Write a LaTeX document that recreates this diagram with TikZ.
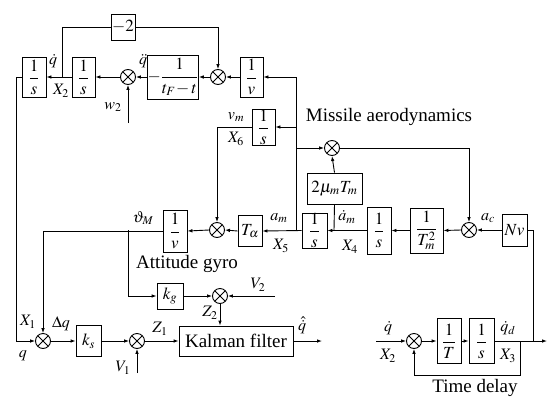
\documentclass[tikz,border=0pt]{standalone}
\usepackage{amsmath}
\usepackage{mathptmx}
\usepackage{fontspec}
\setmainfont{Liberation Serif}
\usetikzlibrary{arrows.meta,calc}
\begin{document}
\begin{tikzpicture}[x=1pt,y=-1pt,
  blk/.style={draw,line width=0.9pt,inner sep=0pt,font=\fontsize{17}{20}\selectfont},
  sumn/.style={draw,circle,line width=0.9pt,minimum size=15pt,inner sep=0pt,
    path picture={\draw[line width=0.9pt] (path picture bounding box.north west)--(path picture bounding box.south east)
      (path picture bounding box.north east)--(path picture bounding box.south west);}},
  ar/.style={-{Latex[length=5pt,width=3.6pt]},line width=0.9pt},
  ln/.style={line width=0.9pt},
  lab/.style={font=\fontsize{16}{17}\selectfont,inner sep=0pt},
  txt/.style={font=\fontsize{19}{21}\selectfont,inner sep=0pt}]
\useasboundingbox (0,0) rectangle (550,400);
% top row
\node[blk,minimum width=24pt,minimum height=40pt] (bS1) at (34,77) {$\dfrac{1}{s}$};
\node[blk,minimum width=23pt,minimum height=40pt] (bS2) at (83.5,77) {$\dfrac{1}{s}$};
\node[sumn] (sA) at (128,77) {};
\node[blk,minimum width=48pt,minimum height=44pt] (bT) at (173,77) {$-\dfrac{1}{t_F\!-t}$};
\node[sumn] (sB) at (218,77) {};
\node[blk,minimum width=23pt,minimum height=40pt] (bV1) at (251.5,77) {$\dfrac{1}{v}$};
\node[blk,minimum width=24pt,minimum height=26pt] (bM2) at (123,27) {$-2$};
% middle
\node[blk,minimum width=23pt,minimum height=36pt] (bVm) at (263.5,127) {$\dfrac{1}{s}$};
\node[sumn] (sC) at (332,148) {};
\node[blk,minimum width=55pt,minimum height=31pt] (b2mu) at (334.5,188.5) {$2\mu_m T_m$};
\node[blk,minimum width=24pt,minimum height=42pt] (bV2) at (175,231) {$\dfrac{1}{v}$};
\node[sumn] (sD) at (217,230) {};
\node[blk,minimum width=24pt,minimum height=31pt] (bTa) at (250,231) {$T_\alpha$};
\node[blk,minimum width=25pt,minimum height=35pt] (bAs) at (314.5,230.5) {$\dfrac{1}{s}$};
\node[blk,minimum width=24pt,minimum height=47pt] (bAd) at (379,230.5) {$\dfrac{1}{s}$};
\node[blk,minimum width=33pt,minimum height=45pt] (bTm) at (426.5,230.5) {$\dfrac{1}{T_m^2}$};
\node[sumn] (sE) at (469,230) {};
\node[blk,minimum width=25pt,minimum height=32pt] (bNv) at (514.5,230) {$Nv$};
% bottom
\node[sumn] (sF) at (43,341) {};
\node[blk,minimum width=25pt,minimum height=31pt] (bKs) at (88.5,341) {$k_s$};
\node[sumn] (sG) at (137,341) {};
\node[blk,minimum width=114pt,minimum height=30pt,font=\fontsize{19}{22}\selectfont] (bKal) at (236,341) {Kalman filter};
\node[blk,minimum width=26pt,minimum height=26pt] (bKg) at (170,296) {$k_g$};
\node[sumn] (sH) at (220,296) {};
\node[sumn] (sI) at (414,341) {};
\node[blk,minimum width=24pt,minimum height=45pt] (bT1) at (449,341) {$\dfrac{1}{T}$};
\node[blk,minimum width=25pt,minimum height=45pt] (bS3) at (481.5,341) {$\dfrac{1}{s}$};
% coordinates
\coordinate (jA) at (296,230);
\coordinate (jX2) at (62,77);
\coordinate (w2) at (128,123);
\coordinate (jL) at (16,77);
\coordinate (jG) at (128,230);
\coordinate (v2) at (275,296);
\coordinate (v1) at (137,373);
\coordinate (kout) at (322,341);
\coordinate (jB) at (334,230);
\coordinate (jR) at (533,341);
\coordinate (tin) at (376,341);
\coordinate (tout) at (547,341);
\coordinate (jF) at (520,341);
\coordinate (fb) at (520,375);
% connectors top
\draw[ar] (jA) |- (bV1.east);
\draw[ar] (jA |- bVm.east) -- (bVm.east);
\draw[ar] (jA |- sC.west) -- (sC.west);
\draw[ar] (bV1.west) -- (sB.east);
\draw[ar] (sB.west) -- (bT.east);
\draw[ar] (bT.west) -- (sA.east);
\draw[ar] (sA.west) -- (bS2.east);
\draw[ar] (bS2.west) -- (bS1.east);
\draw[ln] (jX2) |- (bM2.west);
\draw[ar] (bM2.east) -| (sB.north);
\draw[ar] (w2) -- (sA.south);
\draw[ar] (bS1.west) -- (jL) |- (sF.west);
% middle
\draw[ar] (bVm.west) -| (sD.north);
\draw[ar] (bAs.west) -- (bTa.east);
\draw[ar] (bTa.west) -- (sD.east);
\draw[ar] (sD.west) -- (bV2.east);
\draw[ar] (bV2.west) -| (sF.north);
\draw[ar] (jG) |- (bKg.west);
\draw[ar] (bKg.east) -- (sH.west);
\draw[ar] (v2) -- (sH.east);
\draw[ar] (sH.south) -- (sH |- bKal.north);
\draw[ar] (bAd.west) -- (bAs.east);
\draw[ln] (jB) -- (b2mu.south);
\draw[ar] (b2mu.north) -- (sC.south);
\draw[ar] (sC.east) -| (sE.north);
\draw[ar] (bTm.west) -- (bAd.east);
\draw[ar] (sE.west) -- (bTm.east);
\draw[ar] (bNv.west) -- (sE.east);
\draw[ln] (bNv.east) -| (jR);
% bottom
\draw[ar] (sF.east) -- (bKs.west);
\draw[ar] (bKs.east) -- (sG.west);
\draw[ar] (sG.east) -- (bKal.west);
\draw[ar] (v1) -- (sG.south);
\draw[ar] (bKal.east) -- (kout);
\draw[ar] (tin) -- (sI.west);
\draw[ar] (sI.east) -- (bT1.west);
\draw[ar] (bT1.east) -- (bS3.west);
\draw[ar] (bS3.east) -- (tout);
\draw[ar] (jF) -- (fb) -| (sI.south);
% labels
\node[lab] (lqd) at (53,61) {$\dot q$};
\node[lab] (lX2) at (61,91) {$X_2$};
\node[lab] (lqdd) at (143,61) {$\ddot q$};
\node[lab] (lw2) at (113,107) {$w_2$};
\node[lab] (lvm) at (236,117) {$v_m$};
\node[lab] (lX6) at (236,139) {$X_6$};
\node[txt] (lMA) at (389,117) {Missile aerodynamics};
\node[lab] (lth) at (143,218) {$\vartheta_M$};
\node[txt] (lAG) at (187,264) {Attitude gyro};
\node[lab] (lam) at (279,218) {$a_m$};
\node[lab] (lX5) at (281,246) {$X_5$};
\node[lab] (ladm) at (347,217) {$\dot a_m$};
\node[lab] (lX4) at (350,247) {$X_4$};
\node[lab] (lac) at (488,218) {$a_c$};
\node[lab] (lV2) at (258,285) {$V_2$};
\node[lab] (lZ2) at (210,313) {$Z_2$};
\node[lab] (lX1) at (28,322) {$X_1$};
\node[lab] (lq) at (23,356) {$q$};
\node[lab] (lDq) at (61,324) {$\Delta q$};
\node[lab] (lV1) at (123,368) {$V_1$};
\node[lab] (lZ1) at (160,329) {$Z_1$};
\node[lab] (lqh) at (302,325) {$\hat{\dot q}$};
\node[lab] (lqd2) at (388,328) {$\dot q$};
\node[lab] (lX2b) at (388,356) {$X_2$};
\node[lab] (lqdd2) at (508,328) {$\dot q_d$};
\node[lab] (lX3) at (508,356) {$X_3$};
\node[txt] (lTD) at (475,388) {Time delay};
\end{tikzpicture}
\end{document}
